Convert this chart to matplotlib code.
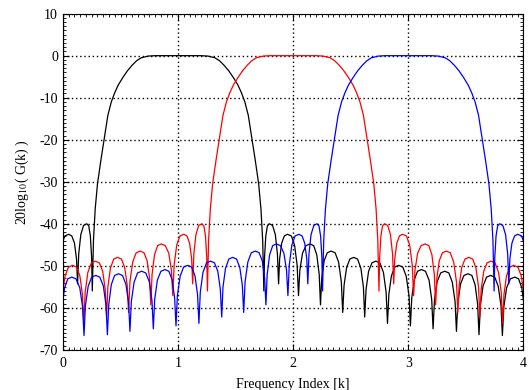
import numpy as np
import matplotlib
matplotlib.use("Agg")
import matplotlib.pyplot as plt
from matplotlib.ticker import MultipleLocator

plt.rcParams['font.family'] = ['Liberation Serif', 'DejaVu Serif']
plt.rcParams['mathtext.fontset'] = 'stix'
plt.rcParams['axes.unicode_minus'] = False

# one-sided response of the prototype band
# (offset from band centre, dB); the curve is mirrored about the centre
proto_d = [0.0, 0.2, 0.26, 0.32, 0.36, 0.40, 0.44, 0.48, 0.52, 0.55, 0.58, 0.61,
           0.64, 0.67, 0.70, 0.72, 0.735, 0.745,
           0.751, 0.762, 0.776, 0.793, 0.821, 0.845, 0.863, 0.873,
           0.882, 0.900, 0.923, 0.950, 0.984, 1.012, 1.034, 1.046,
           1.058, 1.081, 1.111, 1.146, 1.178, 1.205, 1.226, 1.237,
           1.248, 1.269, 1.296, 1.328, 1.364, 1.394, 1.418, 1.430,
           1.442, 1.464, 1.492, 1.526, 1.559, 1.588, 1.610, 1.621,
           1.633, 1.655, 1.684, 1.718, 1.753, 1.784, 1.807, 1.819,
           1.831, 1.853, 1.882, 1.916, 1.952, 1.982, 2.006, 2.018,
           2.030, 2.052, 2.080, 2.114, 2.149, 2.180, 2.203, 2.215,
           2.227, 2.250, 2.281, 2.316, 2.352, 2.382, 2.406, 2.418,
           2.430, 2.453, 2.483, 2.518, 2.552, 2.580, 2.602, 2.614,
           2.626, 2.649, 2.680, 2.715, 2.751, 2.781, 2.805, 2.817,
           2.830, 2.854, 2.887, 2.924, 2.958, 2.986, 3.008, 3.020]
proto_db = [0.0, 0.0, -0.1, -0.5, -1.2, -2.3, -3.6, -5.2, -7.0, -8.8, -11.0, -14.2,
            -19.5, -24.8, -30.5, -36.5, -44.0, -56.0,
            -48.0, -42.9, -40.5, -40.0, -40.4, -42.6, -47.2, -54.3,
            -48.4, -44.6, -42.9, -42.5, -42.9, -45.1, -49.8, -57.1,
            -51.0, -47.0, -45.2, -44.8, -45.2, -47.4, -52.1, -59.3,
            -52.9, -48.8, -46.9, -46.5, -46.9, -49.1, -53.8, -61.1,
            -54.6, -50.4, -48.4, -48.0, -48.4, -50.6, -55.1, -62.2,
            -55.6, -51.3, -49.3, -48.9, -49.3, -51.6, -56.3, -63.7,
            -56.8, -52.4, -50.3, -49.9, -50.3, -52.5, -57.1, -64.3,
            -57.6, -53.3, -51.3, -50.9, -51.3, -53.4, -58.0, -65.0,
            -58.2, -53.8, -51.7, -51.3, -51.7, -53.9, -58.5, -65.6,
            -58.8, -54.4, -52.3, -51.9, -52.3, -54.5, -59.2, -66.4,
            -59.4, -54.8, -52.7, -52.3, -52.7, -54.9, -59.5, -66.6,
            -59.7, -55.2, -53.1, -52.7, -53.1, -55.3, -59.9, -67.0]

centers = [1, 2, 3]
colors = ['k', 'r', 'b']

fig = plt.figure(figsize=(5.29, 3.90), dpi=100)
ax = fig.add_axes([0.119, 0.103, 0.8705, 0.862])

d = np.array(proto_d)
g = np.array(proto_db)
for c, col in zip(centers, colors):
    x = np.concatenate([c - d[::-1], c + d[1:]])
    y = np.concatenate([g[::-1], g[1:]])
    ax.plot(x, y, color=col, lw=0.9)

ax.set_xlim(0, 4)
ax.set_ylim(-70, 10)
ax.xaxis.set_major_locator(MultipleLocator(1))
ax.xaxis.set_minor_locator(MultipleLocator(0.05))
ax.yaxis.set_major_locator(MultipleLocator(10))
ax.yaxis.set_minor_locator(MultipleLocator(1))
ax.tick_params(which='both', direction='in', top=True, right=True, labelsize=10)
ax.tick_params(which='major', length=4)
ax.tick_params(which='minor', length=2)
ax.tick_params(axis='x', pad=5)
ax.grid(True, which='major', color='k', linestyle=(0, (1, 2)), linewidth=1.0)

ax.set_xlabel('Frequency Index [k]', fontsize=10, labelpad=6)
ax.set_ylabel(r'20log$_{10}$( G(k) )', fontsize=10, labelpad=6)

fig.savefig('out.png', dpi=100)
